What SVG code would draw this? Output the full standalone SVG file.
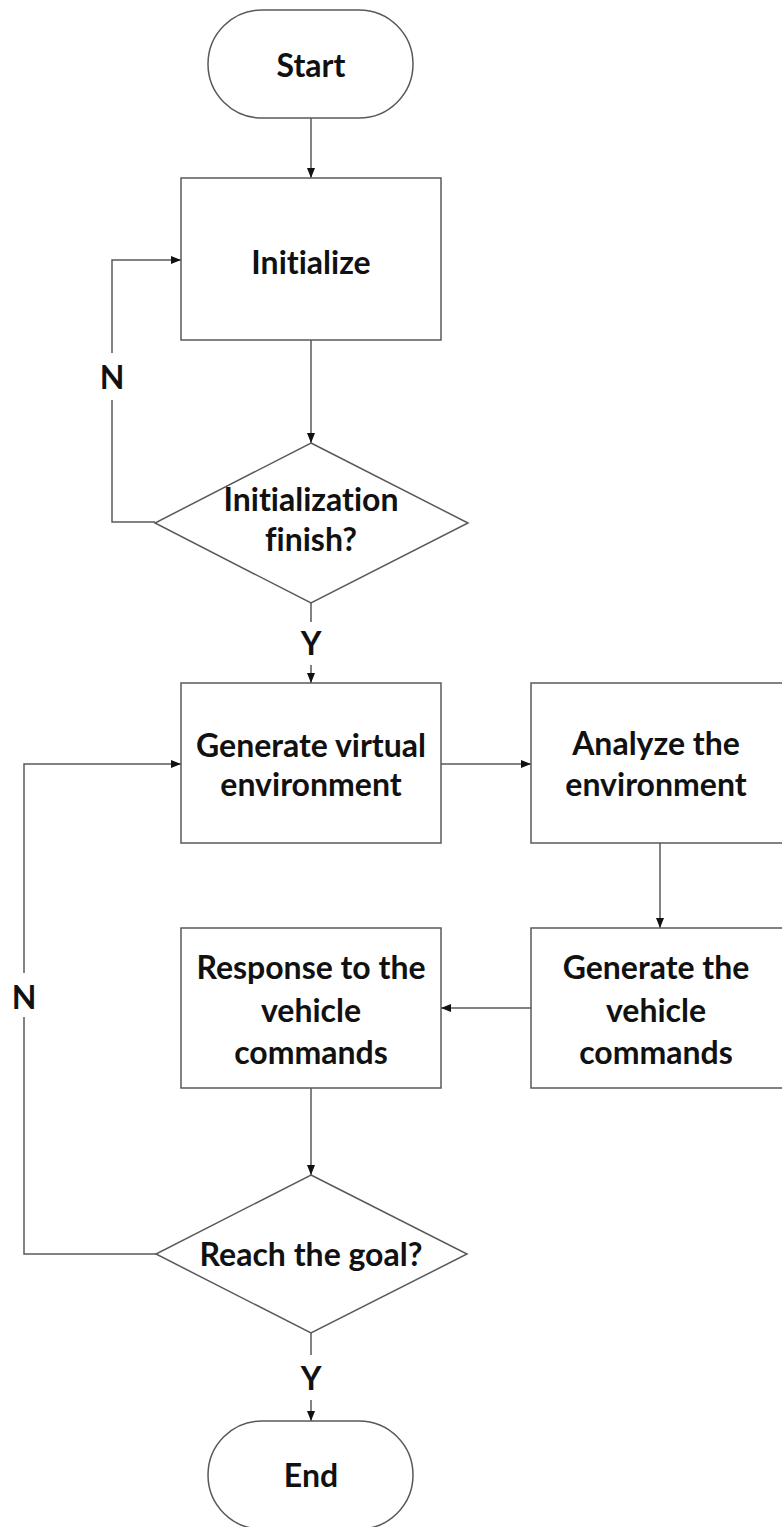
<svg xmlns="http://www.w3.org/2000/svg" width="782" height="1527" viewBox="0 0 782 1527">
  <style>
    .shape { fill: #ffffff; stroke: #595959; stroke-width: 1.5; }
    .wire { fill: none; stroke: #595959; stroke-width: 1.5; }
    .label { font-family: Lato, "Open Sans", "Liberation Sans", sans-serif; font-weight: bold; font-size: 32px; fill: #111111; text-anchor: middle; font-variant-ligatures: none; }
  </style>
  <defs>
    <marker id="arrow" markerUnits="userSpaceOnUse" markerWidth="10" markerHeight="10" viewBox="0 0 10 10" refX="10" refY="5" orient="auto">
      <path d="M0,1 L10,5 L0,9 Z" fill="#111111"/>
    </marker>
  </defs>
  <rect width="782" height="1527" fill="#ffffff"/>

  <!-- connectors -->
  <g id="connectors">
    <line class="wire" x1="311" y1="118" x2="311" y2="178" marker-end="url(#arrow)"/>
    <line class="wire" x1="311" y1="340" x2="311" y2="443" marker-end="url(#arrow)"/>
    <!-- not finished: back to Initialize -->
    <polyline class="wire" points="155,522 112,522 112,400"/>
    <polyline class="wire" points="112,353 112,260 181,260" marker-end="url(#arrow)"/>
    <text class="label" x="112" y="389">N</text>
    <!-- finished -->
    <line class="wire" x1="311" y1="603" x2="311" y2="622"/>
    <line class="wire" x1="311" y1="665" x2="311" y2="683" marker-end="url(#arrow)"/>
    <text class="label" x="311" y="655">Y</text>
    <line class="wire" x1="441" y1="764" x2="531" y2="764" marker-end="url(#arrow)"/>
    <line class="wire" x1="660" y1="843" x2="660" y2="928" marker-end="url(#arrow)"/>
    <line class="wire" x1="531" y1="1008" x2="441" y2="1008" marker-end="url(#arrow)"/>
    <line class="wire" x1="311" y1="1088" x2="311" y2="1175" marker-end="url(#arrow)"/>
    <!-- goal not reached: loop back -->
    <polyline class="wire" points="156,1254 24,1254 24,1017"/>
    <polyline class="wire" points="24,973 24,764 181,764" marker-end="url(#arrow)"/>
    <text class="label" x="24" y="1009">N</text>
    <!-- goal reached -->
    <line class="wire" x1="311" y1="1333" x2="311" y2="1355"/>
    <line class="wire" x1="311" y1="1400" x2="311" y2="1421" marker-end="url(#arrow)"/>
    <text class="label" x="311" y="1390">Y</text>
  </g>

  <g id="start">
    <rect class="shape" x="208" y="10" width="205" height="108" rx="54" ry="54"/>
    <text class="label" x="311" y="77">Start</text>
  </g>

  <g id="initialize">
    <rect class="shape" x="181" y="178" width="260" height="162"/>
    <text class="label" x="311" y="274">Initialize</text>
  </g>

  <g id="init-finish">
    <polygon class="shape" points="311,443 468,523 311,603 155,523"/>
    <text class="label" x="311" y="511">Initialization</text>
    <text class="label" x="311" y="551">finish?</text>
  </g>

  <g id="generate-env">
    <rect class="shape" x="181" y="683" width="260" height="160"/>
    <text class="label" x="311" y="757">Generate virtual</text>
    <text class="label" x="311" y="796">environment</text>
  </g>

  <g id="analyze-env">
    <rect class="shape" x="531" y="683" width="262" height="160"/>
    <text class="label" x="656" y="755">Analyze the</text>
    <text class="label" x="656" y="796">environment</text>
  </g>

  <g id="generate-commands">
    <rect class="shape" x="531" y="928" width="262" height="160"/>
    <text class="label" x="656" y="979">Generate the</text>
    <text class="label" x="656" y="1022">vehicle</text>
    <text class="label" x="656" y="1064">commands</text>
  </g>

  <g id="response">
    <rect class="shape" x="181" y="928" width="260" height="160"/>
    <text class="label" x="311" y="979">Response to the</text>
    <text class="label" x="311" y="1022">vehicle</text>
    <text class="label" x="311" y="1064">commands</text>
  </g>

  <g id="reach-goal">
    <polygon class="shape" points="311,1175 467,1254 311,1333 156,1254"/>
    <text class="label" x="311" y="1266">Reach the goal?</text>
  </g>

  <g id="end">
    <rect class="shape" x="208" y="1421" width="205" height="108" rx="54" ry="54"/>
    <text class="label" x="311" y="1487">End</text>
  </g>
</svg>
